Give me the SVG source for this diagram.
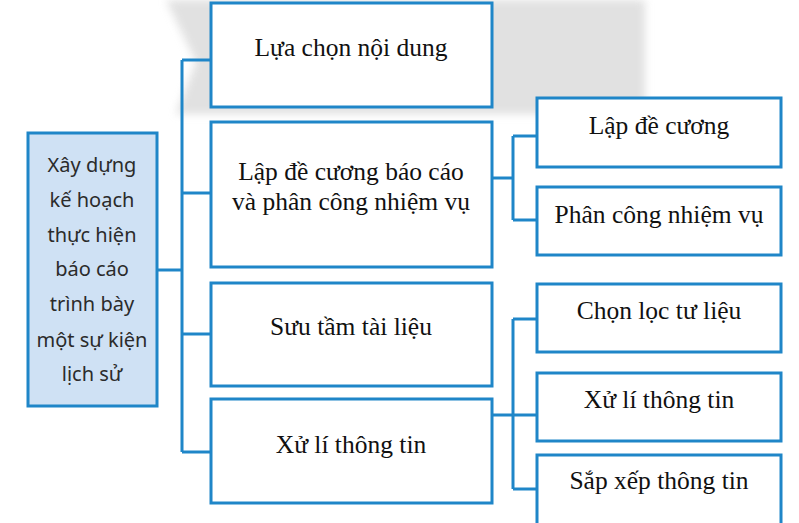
<svg xmlns="http://www.w3.org/2000/svg" width="799" height="523" viewBox="0 0 799 523">
  <defs>
    <filter id="soft" x="-10%" y="-20%" width="120%" height="140%">
      <feGaussianBlur stdDeviation="4"/>
    </filter>
  </defs>
  <style>
    .box { fill: #ffffff; stroke: #1f86c8; stroke-width: 3; }
    .root { fill: #cfe1f4; stroke: #1f86c8; stroke-width: 3; }
    .conn { fill: none; stroke: #1f86c8; stroke-width: 3; }
    .t { font-family: "Liberation Serif", "Times New Roman", serif; font-size: 25.5px; fill: #111111; text-anchor: middle; }
    .r { font-family: "Noto Sans", "Open Sans", sans-serif; font-size: 20px; fill: #2b2b2b; text-anchor: middle; }
  </style>
  <rect width="799" height="523" fill="#ffffff"/>
  <!-- faint watermark band -->
  <path d="M166,0 L645,0 L645,114 L176,114 L196,62 Z" fill="#dcdcdc" opacity="0.85" filter="url(#soft)"/>

  <g id="connectors">
    <path class="conn" d="M157,270 H182"/>
    <path class="conn" d="M182,60 V452"/>
    <path class="conn" d="M182,60 H211"/>
    <path class="conn" d="M182,193 H211"/>
    <path class="conn" d="M182,334 H211"/>
    <path class="conn" d="M182,452 H211"/>
    <path class="conn" d="M492,178 H513"/>
    <path class="conn" d="M513,136 V220"/>
    <path class="conn" d="M513,136 H537"/>
    <path class="conn" d="M513,220 H537"/>
    <path class="conn" d="M492,415 H537"/>
    <path class="conn" d="M513,319 V489"/>
    <path class="conn" d="M513,319 H537"/>
    <path class="conn" d="M513,489 H537"/>
  </g>

  <g id="root">
    <rect class="root" x="28" y="133" width="129" height="273"/>
    <text class="r" x="92" y="172">Xây dựng</text>
    <text class="r" x="92" y="207">kế hoạch</text>
    <text class="r" x="92" y="242">thực hiện</text>
    <text class="r" x="92" y="276">báo cáo</text>
    <text class="r" x="92" y="311">trình bày</text>
    <text class="r" x="92" y="347">một sự kiện</text>
    <text class="r" x="92" y="381">lịch sử</text>
  </g>

  <g id="n-lua-chon">
    <rect class="box" x="211" y="3" width="281" height="104"/>
    <text class="t" x="351" y="56">Lựa chọn nội dung</text>
  </g>
  <g id="n-lap-de-cuong-bao-cao">
    <rect class="box" x="211" y="122" width="281" height="145"/>
    <text class="t" x="351" y="180">Lập đề cương báo cáo</text>
    <text class="t" x="351" y="210">và phân công nhiệm vụ</text>
  </g>
  <g id="n-suu-tam">
    <rect class="box" x="211" y="283" width="281" height="103"/>
    <text class="t" x="351" y="335">Sưu tầm tài liệu</text>
  </g>
  <g id="n-xu-li">
    <rect class="box" x="211" y="399" width="281" height="104"/>
    <text class="t" x="351" y="453">Xử lí thông tin</text>
  </g>

  <g id="n-lap-de-cuong">
    <rect class="box" x="537" y="98" width="244" height="69"/>
    <text class="t" x="659" y="134">Lập đề cương</text>
  </g>
  <g id="n-phan-cong">
    <rect class="box" x="537" y="187" width="244" height="68"/>
    <text class="t" x="659" y="223">Phân công nhiệm vụ</text>
  </g>
  <g id="n-chon-loc">
    <rect class="box" x="537" y="284" width="244" height="68"/>
    <text class="t" x="659" y="319">Chọn lọc tư liệu</text>
  </g>
  <g id="n-xu-li-2">
    <rect class="box" x="537" y="373" width="244" height="68"/>
    <text class="t" x="659" y="408">Xử lí thông tin</text>
  </g>
  <g id="n-sap-xep">
    <rect class="box" x="537" y="455" width="244" height="75"/>
    <text class="t" x="659" y="489">Sắp xếp thông tin</text>
  </g>
</svg>
